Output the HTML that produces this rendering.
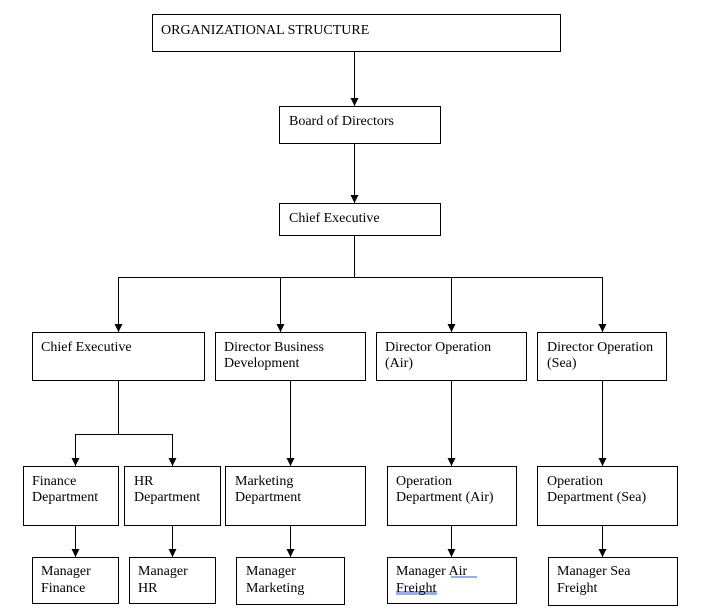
<!DOCTYPE html>
<html><head><style>body{margin:0;background:#fff}svg{display:block}text{font-family:"Liberation Serif",serif;font-size:14px;fill:#000}</style></head><body>
<svg width="727" height="610" xmlns="http://www.w3.org/2000/svg">
<defs><marker id="a" markerWidth="8" markerHeight="8" refX="8" refY="4" orient="auto" markerUnits="userSpaceOnUse"><path d="M0,0 L8,4 L0,8 z" fill="#000"/></marker></defs>
<g fill="none" stroke="#000" stroke-width="1">
<rect x="152.5" y="14.5" width="408" height="37"/>
<rect x="279.5" y="106.5" width="161" height="37"/>
<rect x="279.5" y="203.5" width="161" height="32"/>
<rect x="32.5" y="332.5" width="172" height="48"/>
<rect x="215.5" y="332.5" width="150" height="48"/>
<rect x="376.5" y="332.5" width="150" height="48"/>
<rect x="537.5" y="332.5" width="129" height="48"/>
<rect x="23.5" y="466.5" width="95" height="59"/>
<rect x="124.5" y="466.5" width="96" height="59"/>
<rect x="225.5" y="466.5" width="140" height="59"/>
<rect x="387.5" y="466.5" width="129" height="59"/>
<rect x="537.5" y="466.5" width="140" height="59"/>
<rect x="32.5" y="557.5" width="86" height="46"/>
<rect x="129.5" y="557.5" width="86" height="46"/>
<rect x="236.5" y="557.5" width="108" height="47"/>
<rect x="387.5" y="557.5" width="129" height="46"/>
<rect x="548.5" y="557.5" width="129" height="48"/>
<path d="M354.5 52V106" marker-end="url(#a)"/>
<path d="M354.5 144V203" marker-end="url(#a)"/>
<path d="M354.5 236V277.5M118.5 277.5H602.5"/>
<path d="M118.5 277V332" marker-end="url(#a)"/>
<path d="M280.5 277V332" marker-end="url(#a)"/>
<path d="M451.5 277V332" marker-end="url(#a)"/>
<path d="M602.5 277V332" marker-end="url(#a)"/>
<path d="M118.5 381V434.5M75.5 434.5H172.5"/>
<path d="M75.5 434V466" marker-end="url(#a)"/>
<path d="M172.5 434V466" marker-end="url(#a)"/>
<path d="M290.5 381V466" marker-end="url(#a)"/>
<path d="M451.5 381V466" marker-end="url(#a)"/>
<path d="M602.5 381V466" marker-end="url(#a)"/>
<path d="M75.5 526V557" marker-end="url(#a)"/>
<path d="M172.5 526V557" marker-end="url(#a)"/>
<path d="M290.5 526V557" marker-end="url(#a)"/>
<path d="M451.5 526V557" marker-end="url(#a)"/>
<path d="M602.5 526V557" marker-end="url(#a)"/>
</g>
<path d="M451 577H477M396 592H437M396 594H437" stroke="#2f5fd0" stroke-width="1"/>
<text x="161" y="34">ORGANIZATIONAL STRUCTURE</text>
<text x="289" y="125">Board of Directors</text>
<text x="289" y="222">Chief Executive</text>
<text x="41" y="351">Chief Executive</text>
<text x="224" y="351">Director Business</text><text x="224" y="367">Development</text>
<text x="385" y="351">Director Operation</text><text x="385" y="367">(Air)</text>
<text x="547" y="351">Director Operation</text><text x="547" y="367">(Sea)</text>
<text x="32" y="485">Finance</text><text x="32" y="501">Department</text>
<text x="134" y="485">HR</text><text x="134" y="501">Department</text>
<text x="235" y="485">Marketing</text><text x="235" y="501">Department</text>
<text x="396" y="485">Operation</text><text x="396" y="501">Department (Air)</text>
<text x="547" y="485">Operation</text><text x="547" y="501">Department (Sea)</text>
<text x="41" y="575">Manager</text><text x="41" y="592">Finance</text>
<text x="138" y="575">Manager</text><text x="138" y="592">HR</text>
<text x="246" y="575">Manager</text><text x="246" y="592">Marketing</text>
<text x="396" y="575">Manager Air</text><text x="396" y="592">Freight</text>
<text x="557" y="575">Manager Sea</text><text x="557" y="592">Freight</text>
</svg>
</body></html>
